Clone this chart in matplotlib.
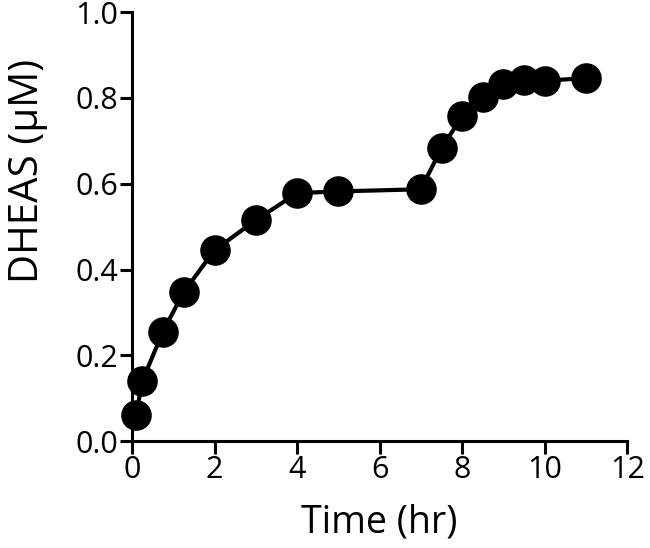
import matplotlib
matplotlib.use("Agg")
import matplotlib.pyplot as plt

# time course values
time_hr = [0.1, 0.25, 0.75, 1.25, 2, 3, 4, 5, 7, 7.5, 8, 8.5, 9, 9.5, 10, 11]
dheas_um = [0.06, 0.14, 0.255, 0.347, 0.445, 0.515, 0.578, 0.582, 0.587,
            0.683, 0.757, 0.802, 0.832, 0.842, 0.840, 0.846]

x_ticks = [0, 2, 4, 6, 8, 10, 12]
y_ticks = [0.0, 0.2, 0.4, 0.6, 0.8, 1.0]

plt.rcParams["font.family"] = ["Open Sans", "DejaVu Sans"]

fig = plt.figure(figsize=(6.5, 5.48), dpi=100)
ax = fig.add_axes([0.203, 0.195, 0.762, 0.783])

ax.plot(time_hr, dheas_um, color="black", lw=3, marker="o", ms=21,
        mfc="black", mec="black", clip_on=False, zorder=3)

ax.set_xlim(0, 12)
ax.set_ylim(0, 1.0)
ax.set_xticks(x_ticks)
ax.set_yticks(y_ticks)
ax.set_yticklabels([f"{v:.1f}" for v in y_ticks])

for side in ("top", "right"):
    ax.spines[side].set_visible(False)
for side in ("left", "bottom"):
    ax.spines[side].set_linewidth(2.2)

ax.tick_params(width=2.2, length=9, labelsize=22, direction="out", pad=1)
ax.set_xlabel("Time (hr)", fontsize=27)
ax.xaxis.set_label_coords(0.5, -0.145)
ax.set_ylabel("DHEAS (\u00b5M)", fontsize=29)
# the label sits above the axis centre in the reference
ax.yaxis.set_label_coords(-0.17, 0.63)

fig.savefig("out.png", dpi=100)
